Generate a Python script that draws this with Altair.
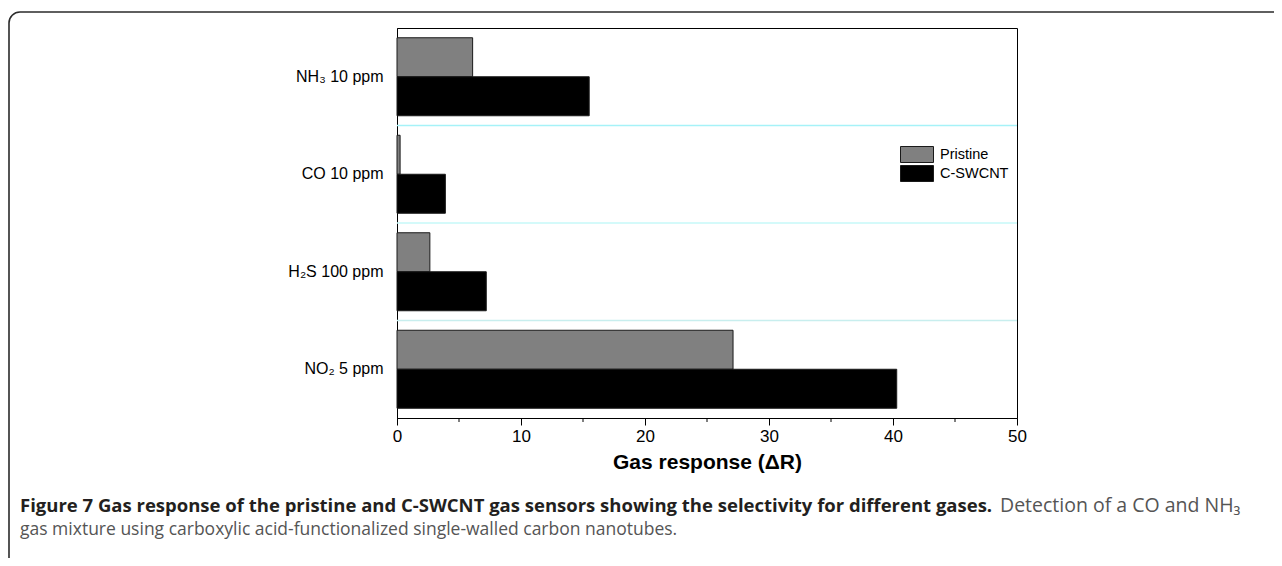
import altair as alt
import pandas as pd

# ---- data ----
gases = ["NH₃ 10 ppm", "CO 10 ppm", "H₂S 100 ppm", "NO₂ 5 ppm"]
series = ["Pristine", "C-SWCNT"]
pristine = [6.1, 0.25, 2.65, 27.1]
cswcnt = [15.5, 3.9, 7.2, 40.3]
series_colors = ["#808080", "#000000"]
x_ticks = [0, 10, 20, 30, 40, 50]
minor_ticks = [5, 15, 25, 35, 45]
divider_after = ["NH₃ 10 ppm", "CO 10 ppm", "H₂S 100 ppm"]
divider_colors = ["#a6f2f8", "#c6f8f8", "#c8eeee"]
x_title = "Gas response (ΔR)"
caption_bold = ("Figure 7 Gas response of the pristine and C-SWCNT gas sensors "
                "showing the selectivity for different gases.")
caption_reg1 = "Detection of a CO and NH₃"
caption_reg2 = "gas mixture using carboxylic acid-functionalized single-walled carbon nanotubes."

rows = []
for g, p, c in zip(gases, pristine, cswcnt):
    rows.append({"gas": g, "series": series[0], "value": p})
    rows.append({"gas": g, "series": series[1], "value": c})
df = pd.DataFrame(rows)

W, H = 620, 390
FONT = "Liberation Sans"
STEP = H / 4.0

xscale = alt.Scale(domain=[0, 50], nice=False, zero=True)
yscale = alt.Scale(domain=gases, paddingInner=0.2, paddingOuter=0.1)

xaxis = alt.Axis(values=x_ticks, title=x_title, grid=False, labelFlush=False,
                 labelFontSize=17, labelColor="#000", labelPadding=3,
                 tickSize=7, tickColor="#000", domainColor="#000",
                 titleFontSize=21, titleFontWeight="bold", titleColor="#000",
                 titlePadding=7, labelFont=FONT, titleFont=FONT)
yaxis = alt.Axis(title=None, ticks=False, labelFontSize=16, labelColor="#000",
                 labelPadding=14, domainColor="#000", labelFont=FONT)

bars = alt.Chart(df).mark_bar(stroke="#1a1a1a", strokeWidth=1).encode(
    x=alt.X("value:Q", scale=xscale, axis=xaxis),
    y=alt.Y("gas:N", scale=yscale, sort=gases, axis=yaxis),
    yOffset=alt.YOffset("series:N", sort=series,
                        scale=alt.Scale(domain=series, paddingInner=0, paddingOuter=0)),
    color=alt.Color("series:N", sort=series,
                    scale=alt.Scale(domain=series, range=series_colors),
                    legend=alt.Legend(title=None, orient="none", legendX=511.5, legendY=118,
                                      symbolType="M-2.0625,-1H2.0625V1H-2.0625Z", symbolSize=256,
                                      symbolStrokeColor="#1a1a1a", symbolStrokeWidth=1,
                                      labelFontSize=14.5, labelFont=FONT, labelColor="#000",
                                      labelOffset=14.5, rowPadding=-2, padding=0)),
)

div_df = pd.DataFrame({"gas": divider_after, "col": divider_colors})
dividers = alt.Chart(div_df).mark_rule(strokeWidth=1.3, yOffset=0.1 * STEP).encode(
    y=alt.Y("gas:N", scale=yscale, sort=gases, bandPosition=1, axis=yaxis),
    stroke=alt.Stroke("col:N", scale=None),
)

minor = alt.Chart(pd.DataFrame({"value": minor_ticks})).mark_rule(color="#000", strokeWidth=1).encode(
    x=alt.X("value:Q", scale=xscale, axis=xaxis),
    y=alt.value(H),
    y2=alt.value(H + 4),
)

one = pd.DataFrame({"a": [0]})
border = alt.Chart(one).mark_rect(fill=None, stroke="#2b2b2b", strokeWidth=1.6,
                                  cornerRadius=11).encode(
    x=alt.value(-388), x2=alt.value(1100), y=alt.value(-16), y2=alt.value(700))

cap1 = alt.Chart(pd.DataFrame({"t": [caption_bold]})).mark_text(
    font="Open Sans", fontSize=18.5, fontWeight="bold", color="#231f20",
    align="left", baseline="middle").encode(
    text="t:N", x=alt.value(-377), y=alt.value(478))
cap2 = alt.Chart(pd.DataFrame({"t": [caption_reg1]})).mark_text(
    font="Open Sans", fontSize=19.5, color="#555555",
    align="left", baseline="middle").encode(
    text="t:N", x=alt.value(603), y=alt.value(478))
cap3 = alt.Chart(pd.DataFrame({"t": [caption_reg2]})).mark_text(
    font="Open Sans", fontSize=17.5, color="#555555",
    align="left", baseline="middle").encode(
    text="t:N", x=alt.value(-377), y=alt.value(502))

chart = alt.layer(border, dividers, bars, minor, cap1, cap2, cap3).properties(
    width=W, height=H,
    autosize=alt.AutoSizeParams(type="none"),
    padding={"left": 389, "top": 20, "right": 257, "bottom": 140},
).configure(font=FONT, view=alt.ViewConfig(stroke="#000", strokeWidth=1))

chart.save("out.html", embed_options={"renderer": "svg", "actions": False})
